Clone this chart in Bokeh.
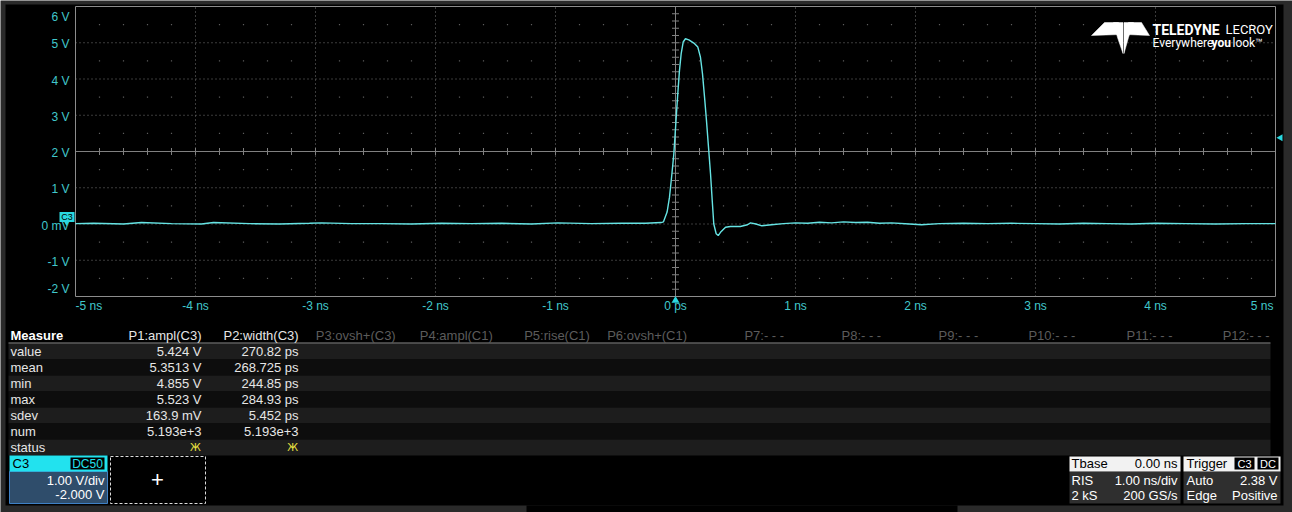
import numpy as np
from bokeh.plotting import figure
from bokeh.models import Range1d
from bokeh.core.properties import value
from bokeh.embed import file_html
from bokeh.resources import INLINE

# ---------------- data ----------------
time_ns = [-5.00, -4.85, -4.60, -4.45, -4.20, -3.95, -3.85, -3.55, -3.30, -3.05, -2.95,
           -2.70, -2.45, -2.20, -1.95, -1.70, -1.45, -1.20, -0.98, -0.70, -0.45, -0.25,
           -0.12, -0.10, -0.07, -0.05, -0.03, -0.014, -0.003, 0.008, 0.019, 0.033, 0.047,
           0.064, 0.083, 0.111, 0.153, 0.186, 0.208, 0.225, 0.242, 0.258, 0.275, 0.292,
           0.306, 0.319, 0.339, 0.356, 0.375, 0.417, 0.458, 0.54, 0.60, 0.625, 0.67,
           0.72, 0.80, 0.90, 1.00, 1.10, 1.20, 1.30, 1.40, 1.50, 1.60, 1.70, 1.80, 1.95,
           2.05, 2.20, 2.40, 2.60, 2.80, 3.00, 3.20, 3.40, 3.60, 3.80, 4.00, 4.25, 4.50,
           4.75, 5.00]
volts = [0.01, 0.02, 0.00, 0.04, 0.01, 0.00, 0.04, 0.01, 0.00, 0.02, 0.03,
         0.01, 0.01, 0.00, 0.02, 0.01, 0.02, 0.00, 0.03, 0.01, 0.02, 0.02,
         0.04, 0.06, 0.33, 0.74, 1.38, 1.93, 2.48, 3.04, 3.59, 4.23, 4.69,
         5.02, 5.11, 5.08, 4.99, 4.88, 4.60, 4.14, 3.50, 2.86, 2.12, 1.38,
         0.65, 0.00, -0.27, -0.32, -0.23, -0.09, -0.07, -0.07, -0.02, 0.03, 0.00,
         -0.05, -0.02, 0.01, 0.03, 0.02, 0.05, 0.03, 0.06, 0.04, 0.05, 0.02, 0.03, 0.00,
         -0.02, 0.01, 0.02, 0.01, 0.02, 0.01, 0.00, 0.02, 0.01, 0.00, 0.02, 0.01, 0.00,
         0.01, 0.01]

y_ticks = [-2, -1, 0, 1, 2, 3, 4, 5, 6]
y_tick_labels = ["-2 V", "-1 V", "0 mV", "1 V", "2 V", "3 V", "4 V", "5 V", "6 V"]
x_ticks = [-5, -4, -3, -2, -1, 0, 1, 2, 3, 4, 5]
x_tick_labels = ["-5 ns", "-4 ns", "-3 ns", "-2 ns", "-1 ns", "0 ps", "1 ns", "2 ns",
                 "3 ns", "4 ns", "5 ns"]

param_headers = ["P1:ampl(C3)", "P2:width(C3)", "P3:ovsh+(C3)", "P4:ampl(C1)",
                 "P5:rise(C1)", "P6:ovsh+(C1)", "P7:- - -", "P8:- - -", "P9:- - -",
                 "P10:- - -", "P11:- - -", "P12:- - -"]
measure_rows = ["value", "mean", "min", "max", "sdev", "num", "status"]
p1_values = ["5.424 V", "5.3513 V", "4.855 V", "5.523 V", "163.9 mV", "5.193e+3"]
p2_values = ["270.82 ps", "268.725 ps", "244.85 ps", "284.93 ps", "5.452 ps", "5.193e+3"]

trigger_level = 2.38

# ---------------- layout / style constants ----------------
PW, PH = 1292, 512
FX0, FX1 = 75, 1275          # graticule left/right (px)
FY0, FY1 = 6, 296            # graticule top/bottom (px)
PX_NS = (FX1 - FX0) / 10.0
PX_V = (FY1 - FY0) / 8.0
FONT = value("Liberation Sans")
CYAN_LBL = "#40c8cc"
CYAN = "#2ad8e0"
WAVE = "#66e4e4"
GRID = "#767676"

p = figure(width=PW, height=PH, x_range=Range1d(0, PW), y_range=Range1d(PH, 0),
           x_axis_type=None, y_axis_type=None, min_border=0,
           output_backend="svg", toolbar_location=None)
p.background_fill_color = "#2a2a2a"
p.border_fill_color = "#2a2a2a"
p.outline_line_color = None
p.grid.visible = False
p.extra_x_ranges = {"t": Range1d(-5 - FX0 / PX_NS, 5 + (PW - FX1) / PX_NS)}
p.extra_y_ranges = {"v": Range1d(-2 - (PH - FY1) / PX_V, 6 + FY0 / PX_V)}
S = dict(x_range_name="t", y_range_name="v")

# black screen areas
p.quad(left=[5, 526], right=[1283, 957], top=[4, 505], bottom=[505, 512],
       fill_color="black", line_color=None)

# ---------------- graticule ----------------
xin = x_ticks[1:-1]
yin = y_ticks[1:-1]
p.segment(x0=xin, y0=[-2] * len(xin), x1=xin, y1=[6] * len(xin),
          line_color=GRID, line_dash="1 3", line_width=1, **S)
p.segment(x0=[-5] * len(yin), y0=yin, x1=[5] * len(yin), y1=yin,
          line_color=GRID, line_dash="1 3", line_width=1, **S)
dx = [v for v in np.round(np.arange(-4.8, 5.0, 0.2), 3) if abs(v - round(v)) > 1e-6]
dy = np.arange(-1.5, 6.0, 1.0)
gx, gy = np.meshgrid(dx, dy)
p.scatter(gx.ravel(), gy.ravel(), size=1.2, color="#5c5c5c", marker="square",
          line_color=None, **S)
p.segment(x0=[0, -5], y0=[-2, 2], x1=[0, 5], y1=[6, 2], line_color="#808080",
          line_width=1, **S)
tx = np.round(np.arange(-5, 5.001, 0.2), 3)
p.segment(x0=tx, y0=2 - 3.5 / PX_V, x1=tx, y1=2 + 3.5 / PX_V, color="#808080",
          line_width=1, **S)
ty = np.round(np.arange(-2, 6.001, 0.2), 3)
p.segment(x0=-3.5 / PX_NS, y0=ty, x1=3.5 / PX_NS, y1=ty, color="#808080",
          line_width=1, **S)
p.quad(left=[-5], right=[5], bottom=[-2], top=[6], fill_color=None,
       line_color="#8c8c8c", line_width=1, **S)

# axis labels
lab = dict(text_font=FONT, text_font_size="12px", text_color=CYAN_LBL, **S)
xl = -5 - 6 / PX_NS
p.text(x=[xl] * 7, y=[t - 1.5 / PX_V for t in y_ticks[1:-1]], text=y_tick_labels[1:-1],
       text_align="right", text_baseline="middle", **lab)
p.text(x=[xl], y=[6 - 3 / PX_V], text=[y_tick_labels[-1]], text_align="right",
       text_baseline="top", **lab)
p.text(x=[xl], y=[-2 + 1 / PX_V], text=[y_tick_labels[0]], text_align="right",
       text_baseline="bottom", **lab)
yl = -2 - 9 / PX_V
p.text(x=x_ticks[1:-1], y=[yl] * 9, text=x_tick_labels[1:-1], text_align="center",
       text_baseline="middle", **lab)
p.text(x=[x_ticks[0]], y=[yl], text=[x_tick_labels[0]], text_align="left",
       text_baseline="middle", **lab)
p.text(x=[x_ticks[-1] - 2 / PX_NS], y=[yl], text=[x_tick_labels[-1]], text_align="right",
       text_baseline="middle", **lab)

# waveform
p.line(time_ns, volts, color=WAVE, line_width=1.4, **S)

# channel ground marker
p.quad(left=[-5 - 16 / PX_NS], right=[-5 - 1 / PX_NS], bottom=[0 + 2 / PX_V],
       top=[0 + 12 / PX_V], fill_color=CYAN, line_color=None, **S)
p.text(x=[-5 - 8.5 / PX_NS], y=[0 + 7 / PX_V], text=["C3"], text_align="center",
       text_baseline="middle", text_font=FONT, text_font_size="9px", text_color="black", **S)
p.scatter(x=[-5 - 9 / PX_NS], y=[0 + 1 / PX_V], marker="inverted_triangle", size=5,
          color=CYAN, line_color=None, **S)
# trigger markers
p.scatter(x=[5 + 5 / PX_NS], y=[trigger_level], marker="triangle", angle=np.pi / 2,
          size=7, color=CYAN, line_color=None, **S)
p.scatter(x=[0], y=[-2 - 4 / PX_V], marker="triangle", size=8, color=CYAN,
          line_color=None, **S)

# ---------------- logo ----------------
logo_polys = [
    [(1091, 35), (1104, 22), (1118, 22), (1120, 34)],
    [(1113, 22), (1122.5, 22), (1122.5, 53), (1117, 37)],
    [(1123.5, 22), (1133, 22), (1128, 37), (1123.5, 53)],
    [(1128, 22), (1141, 22), (1149, 35), (1126, 34)],
]
p.patches([[a for a, b in poly] for poly in logo_polys],
          [[b for a, b in poly] for poly in logo_polys],
          color="white", line_color="white", line_width=0.5)
p.text(x=[1152], y=[29], text=["TELEDYNE"], text_font=value("Roboto"),
       text_font_style="bold", text_font_size="14px", text_color="white",
       text_baseline="middle", text_align="left")
p.text(x=[1225], y=[29], text=["LECROY"], text_font=value("Roboto"),
       text_font_size="13px", text_color="white", text_baseline="middle", text_align="left")
p.text(x=[1152], y=[42], text=["Everywhere"], text_font=value("Roboto"),
       text_font_size="12px", text_color="white", text_baseline="middle", text_align="left")
p.text(x=[1211], y=[42], text=["you"], text_font=value("Roboto"),
       text_font_style="bold", text_font_size="12px", text_color="white",
       text_baseline="middle", text_align="left")
p.text(x=[1232], y=[42], text=["look™"], text_font=value("Roboto"),
       text_font_size="12px", text_color="white", text_baseline="middle", text_align="left")

# ---------------- measurement table ----------------
row_y = [351 + 16 * i for i in range(len(measure_rows))]
p.quad(left=[8] * len(row_y), right=[1270] * len(row_y),
       top=[y - 8 for y in row_y], bottom=[y + 8 for y in row_y],
       fill_color=["#1d1d1d" if i % 2 == 0 else "#0d0d0d" for i in range(len(row_y))],
       line_color=None)
p.segment(x0=[8], y0=[342.5], x1=[1270], y1=[342.5], color="#8a8a8a", line_width=1)


def txt(xs, ys, texts, color="#e6e6e6", align="left", size="13px", style="normal",
        font=FONT):
    p.text(x=xs, y=ys, text=texts, text_color=color, text_align=align,
           text_baseline="middle", text_font=font, text_font_size=size,
           text_font_style=style)


txt([10], [335], ["Measure"], color="white", style="bold")
hx = [201 + 97.1 * i for i in range(len(param_headers))]
txt(hx[:2], [335, 335], param_headers[:2], align="right")
txt(hx[2:], [335] * (len(hx) - 2), param_headers[2:], color="#5c5c5c", align="right")
txt([10] * len(row_y), row_y, measure_rows)
txt([hx[0]] * len(p1_values), row_y[:6], p1_values, align="right")
txt([hx[1]] * len(p2_values), row_y[:6], p2_values, align="right")
txt([hx[0] - 6, hx[1] - 6], [row_y[6], row_y[6]], ["Ж", "Ж"], color="#e8e040",
    align="center", size="10px", font=value("DejaVu Sans"))

# ---------------- channel descriptor C3 ----------------
p.quad(left=[9], right=[107], top=[471], bottom=[503], fill_color="#2f4d6b",
       line_color="#3f80c4", line_width=1)
p.quad(left=[9], right=[107], top=[455], bottom=[471], fill_color="#22e2ee", line_color=None)
p.quad(left=[70], right=[104], top=[457], bottom=[469], fill_color="black", line_color=None)
txt([12], [463], ["C3"], color="black")
txt([87], [463], ["DC50"], color="#22e2ee", align="center", size="12px")
txt([104, 104], [480, 494], ["1.00 V/div", "-2.000 V"], color="white", align="right")

p.quad(left=[110], right=[205], top=[456], bottom=[503], fill_color=None,
       line_color="#dddddd", line_dash="3 2")
txt([157], [479], ["+"], color="white", align="center", size="22px")

# ---------------- timebase ----------------
p.quad(left=[1069], right=[1180], top=[471], bottom=[503], fill_color="#2f2f2f", line_color=None)
p.quad(left=[1069], right=[1180], top=[456], bottom=[471], fill_color="#f2f2f2", line_color=None)
txt([1071], [463], ["Tbase"], color="black")
txt([1177], [463], ["0.00 ns"], color="black", align="right")
txt([1071, 1071], [480, 495], ["RIS", "2 kS"], color="white")
txt([1177, 1177], [480, 495], ["1.00 ns/div", "200 GS/s"], color="white", align="right")

# ---------------- trigger ----------------
p.quad(left=[1183], right=[1280], top=[471], bottom=[503], fill_color="#2f2f2f", line_color=None)
p.quad(left=[1183], right=[1280], top=[456], bottom=[471], fill_color="#f2f2f2", line_color=None)
p.quad(left=[1234, 1257], right=[1254, 1278], top=[457, 457], bottom=[469, 469],
       fill_color="black", line_color=None)
txt([1186], [463], ["Trigger"], color="black")
txt([1244, 1267.5], [463, 463], ["C3", "DC"], color="white", align="center", size="11px")
txt([1186, 1186], [480, 495], ["Auto", "Edge"], color="white")
txt([1277, 1277], [480, 495], ["2.38 V", "Positive"], color="white", align="right")

open("out.html", "w").write(file_html(p, INLINE))
